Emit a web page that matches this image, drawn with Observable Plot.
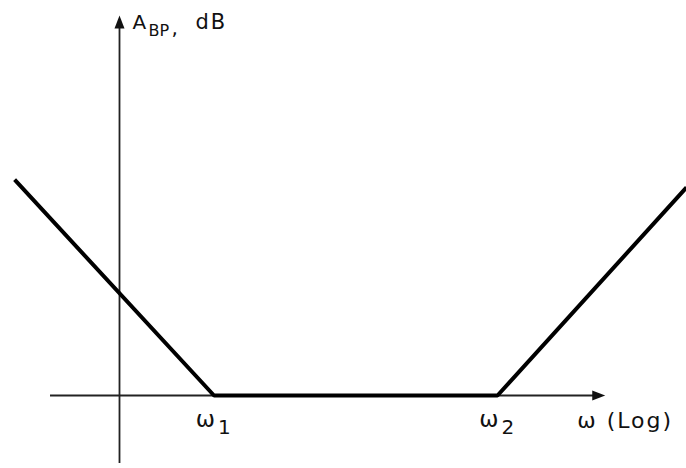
<!DOCTYPE html>
<html>
<head>
<meta charset="utf-8">
<script src="https://cdn.jsdelivr.net/npm/d3@7"></script>
<script src="https://cdn.jsdelivr.net/npm/@observablehq/plot@0.6"></script>
<style>
  html, body { margin: 0; padding: 0; background: #fff; }
  #chart svg { display: block; }
</style>
</head>
<body>
<div id="chart"></div>
<script>
// Asymptotic (Bode) magnitude of a band-pass response: log-frequency vs gain in dB
const breakLabels = ["1", "2"];            // subscripts of the corner frequencies ω1, ω2
const breakFreqs = [1, 4];                 // log ω at the corners
const logOmega = [-1.11, 1, 4, 6.0];       // log ω of the asymptote vertices
const gainDb = [41.9, 0, 0, 40.4];         // gain (dB) at those vertices
const xAxisExtent = [-0.73, 5.14];         // log ω span of the horizontal axis
const yAxisExtent = [-13.2, 73.8];         // dB span of the vertical axis

const response = logOmega.map((x, i) => ({x, y: gainDb[i]}));
const corners = breakFreqs.map((x, i) => ({x, sub: breakLabels[i]}));

// filled arrowhead with its tip at the origin, pointing up
const arrowHead = {
  draw(ctx) {
    ctx.moveTo(0, 0);
    ctx.lineTo(5, 13);
    ctx.lineTo(-5, 13);
    ctx.closePath();
  }
};

const font = "DejaVu Sans, Verdana, sans-serif";
const axisColor = "#222";
const ink = "#111";

const chart = Plot.plot({
  width: 686,
  height: 468,
  margin: 0,
  style: {background: "#fff", overflow: "visible", fontFamily: font},
  x: {domain: [-119 / 94.5, 567 / 94.5], axis: null},
  y: {domain: [-73 / 5.15, 395 / 5.15], axis: null},
  marks: [
    // axes
    Plot.ruleY([0], {x1: xAxisExtent[0], x2: xAxisExtent[1] - 0.05, stroke: axisColor, strokeWidth: 1.8}),
    Plot.ruleX([0], {y1: yAxisExtent[0], y2: yAxisExtent[1] - 1, stroke: axisColor, strokeWidth: 1.8}),
    Plot.dot([{x: 0, y: yAxisExtent[1]}], {x: "x", y: "y", symbol: arrowHead, fill: ink, stroke: "none"}),
    Plot.dot([{x: xAxisExtent[1], y: 0}], {x: "x", y: "y", symbol: arrowHead, rotate: 90, fill: ink, stroke: "none"}),

    // asymptotic magnitude
    Plot.line(response, {x: "x", y: "y", stroke: "#000", strokeWidth: 4, strokeLinejoin: "miter", strokeLinecap: "butt"}),

    // vertical axis title: A_BP, dB
    Plot.text(["A"], {x: () => 0, y: () => yAxisExtent[1], text: d => d, textAnchor: "start", lineAnchor: "bottom", dx: 13, dy: 14, fontSize: 20, fill: ink}),
    Plot.text(["BP"], {x: () => 0, y: () => yAxisExtent[1], text: d => d, textAnchor: "start", lineAnchor: "bottom", dx: 29, dy: 21, fontSize: 16, fill: ink}),
    Plot.text([","], {x: () => 0, y: () => yAxisExtent[1], text: d => d, textAnchor: "start", lineAnchor: "bottom", dx: 52, dy: 20, fontSize: 20, fill: ink}),
    Plot.text(["dB"], {x: () => 0, y: () => yAxisExtent[1], text: d => d, textAnchor: "start", lineAnchor: "bottom", dx: 76, dy: 14, fontSize: 21, fill: ink}),

    // corner frequency labels ω1, ω2
    Plot.text(corners, {x: "x", y: () => 0, text: () => "ω", textAnchor: "end", lineAnchor: "bottom", dx: 1, dy: 31, fontSize: 23, fill: ink}),
    Plot.text(corners, {x: "x", y: () => 0, text: "sub", textAnchor: "start", lineAnchor: "bottom", dx: 4, dy: 38, fontSize: 20, fill: ink}),

    // horizontal axis title
    Plot.text(["ω (Log)"], {x: () => xAxisExtent[1], y: () => 0, text: d => d, textAnchor: "start", lineAnchor: "bottom", dx: -28, dy: 32, fontSize: 22, fill: ink})
  ]
});

// wider tracking on the titles
const tracking = {"dB": 2, "ω (Log)": 2};
d3.select(chart).selectAll("text").each(function () {
  const s = tracking[this.textContent];
  if (s) this.setAttribute("letter-spacing", s);
});

document.getElementById("chart").append(chart);
</script>
</body>
</html>
